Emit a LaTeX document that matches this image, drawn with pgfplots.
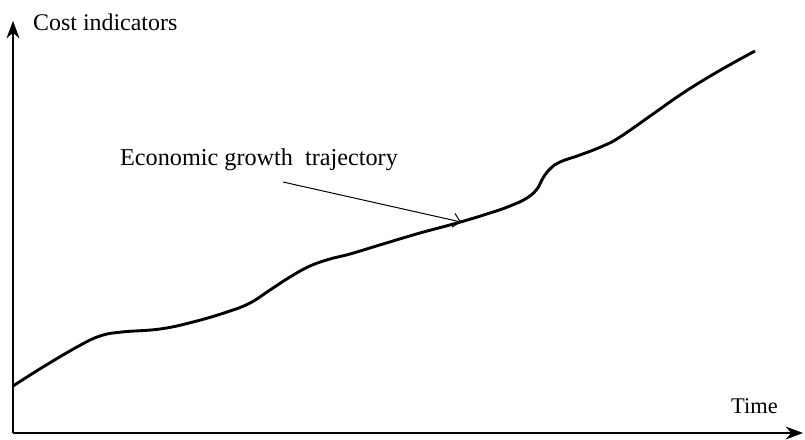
\documentclass[border=0pt]{standalone}
\usepackage{fontspec}
\setmainfont{Liberation Serif}
\usepackage{pgfplots}
\pgfplotsset{compat=1.18}
\usetikzlibrary{arrows.meta}

\begin{document}
\begin{tikzpicture}
\begin{axis}[
    scale only axis,
    width=789bp, height=411bp,
    xmin=13, xmax=802,
    ymin=2, ymax=413,
    axis lines=none,
    clip=false,
]
  % page frame, in pixel units of the reference
  \path (axis cs:0,0) rectangle (axis cs:805,435);
  \coordinate (O) at (axis cs:13,2);
  \coordinate (Y) at (axis cs:13,414);
  \coordinate (X) at (axis cs:803,2);
  \coordinate (A) at (axis cs:283,253);
  \coordinate (B) at (axis cs:461,213);

  \addplot[black, line width=2.9bp, smooth, tension=0.7] coordinates {
    (13,49) (43,68) (77,88) (100,99) (122,103) (160,106) (193,113)
    (227,123) (250,132) (270,145) (290,158) (310,169) (330,176)
    (350,181) (383,191) (420,202) (457,212) (490,222) (510,229)
    (527,237) (537,246) (543,257) (550,266) (560,273) (580,280)
    (603,289) (620,298) (653,321) (680,340) (707,357) (733,372)
    (755,384)
  };

  \node[anchor=base west, inner sep=0pt, font=\fontsize{24}{28}\selectfont]
    at (axis cs:33,404) {Cost indicators};
  \node[anchor=base west, inner sep=0pt, font=\fontsize{24.3}{28}\selectfont]
    at (axis cs:120,270) {Economic growth\ \ trajectory};
  \node[anchor=base west, inner sep=0pt, font=\fontsize{22.5}{26}\selectfont]
    at (axis cs:731,22) {Time};
\end{axis}
% axes with arrows and the pointer
\draw[line width=1.1pt, arrows={-Stealth[scale=2.2]}] (O) -- (Y);
\draw[line width=1.1pt, arrows={-Stealth[scale=2.2]}] (O) -- (X);
\draw[line width=1pt, arrows={-Straight Barb[scale=2]}] (A) -- (B);
\end{tikzpicture}
\end{document}
